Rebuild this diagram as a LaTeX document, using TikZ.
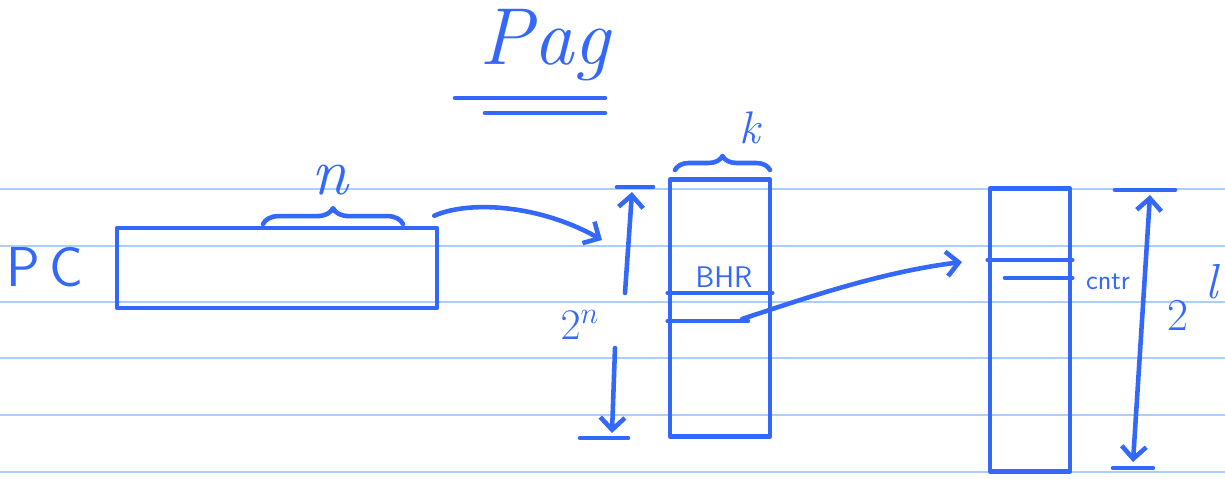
\documentclass[tikz,border=0pt]{standalone}
\usetikzlibrary{arrows.meta,decorations.pathreplacing}
\definecolor{ink}{RGB}{52,104,250}
\definecolor{rule}{RGB}{172,206,250}
\begin{document}
\begin{tikzpicture}[x=0.02cm,y=-0.02cm,
  ink/.style={draw=ink,line width=2.6pt,line cap=round,line join=round},
  tip/.style={-{Straight Barb[length=7pt,width=14pt,line width=2.6pt]}},
  bothtip/.style={{Straight Barb[length=7pt,width=14pt,line width=2.6pt]}-{Straight Barb[length=7pt,width=14pt,line width=2.6pt]}},
  lbl/.style={text=ink,inner sep=0pt},
  col/.style={ink,rectangle,inner sep=0pt}]
\useasboundingbox (0,0) rectangle (1225,478);
% ruled paper
\foreach \yy in {189,246,302,358,415,472}
  \draw[rule,line width=0.9pt] (0,\yy) -- (1225,\yy);
% title
\node[lbl,font=\fontsize{46}{46}\selectfont\itshape] (title) at (545,45) {Pag};
\draw[ink] (455,98) -- (605,98);
\draw[ink] (485,113) -- (605,113);
% PC register
\node[lbl,font=\fontsize{32}{32}\selectfont\sffamily] (pclbl) at (45,267) {P\,C};
\node[col,minimum width=6.4cm,minimum height=1.6cm] (pc) at (277,268) {};
\draw[ink,decorate,decoration={brace,amplitude=9pt}] (263,224) -- (403,224);
\node[lbl,font=\fontsize{38}{38}\selectfont\itshape] (n) at (330,180) {n};
% BHT column
\node[col,minimum width=2cm,minimum height=5.14cm] (mid) at (720,308) {};
\draw[ink,decorate,decoration={brace,amplitude=8pt}] (675,170) -- (770,170);
\node[lbl,font=\fontsize{26}{26}\selectfont\itshape] (k) at (750,128) {k};
\node[lbl,font=\fontsize{17}{17}\selectfont\sffamily] (bhr) at (724,277) {BHR};
\draw[ink] (mid.west |- 0,293) -- (mid.east |- 0,293);
\draw[ink] (mid.west |- 0,321) -- (748,321);
\coordinate (bhrout) at (742,319);
% 2^n dimension
\draw[ink] (617,187) -- (653,187);
\draw[ink] (580,438) -- (628,438);
\coordinate (ntop) at (632,192);
\coordinate (nmidup) at (625,293);
\coordinate (nmiddown) at (615,348);
\coordinate (nbot) at (612,433);
\draw[ink,tip] (nmidup) -- (ntop);
\draw[ink,tip] (nmiddown) -- (nbot);
\node[lbl,font=\fontsize{24}{24}\selectfont] (twon) at (580,325) {$2^n$};
% arrow PC -> BHT
\coordinate (pcin) at (602,240);
\draw[ink,tip] (pc.north east) ++(-5,-10) .. controls (470,200) and (540,205) .. (pcin);
% counter table column
\node[col,minimum width=1.6cm,minimum height=5.66cm] (right) at (1030,330) {};
\draw[ink] (right.west |- 0,260) -- (right.east |- 0,260);
\draw[ink] (1005,278) -- (right.east |- 0,278);
\node[lbl,font=\fontsize{16}{16}\selectfont\sffamily] (cntr) at (1108,282) {cntr};
\coordinate (rowin) at (962,262);
\draw[ink,tip] (bhrout) .. controls (800,300) and (880,272) .. (rowin);
% 2^l dimension
\draw[ink] (1115,190) -- (1175,190);
\draw[ink] (1113,468) -- (1153,468);
\coordinate (ltop) at (1150,195);
\coordinate (lbot) at (1133,462);
\draw[ink,bothtip] (lbot) -- (ltop);
\node[lbl,font=\fontsize{26}{26}\selectfont] (two) at (1178,315) {2};
\node[lbl,font=\fontsize{28}{28}\selectfont\itshape] (ell) at (1212,282) {l};
\end{tikzpicture}
\end{document}
